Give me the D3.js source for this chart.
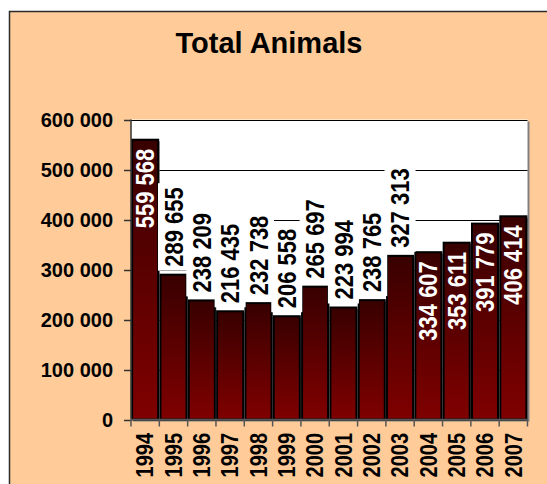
<!DOCTYPE html>
<html>
<head>
<meta charset="utf-8">
<script src="https://cdn.jsdelivr.net/npm/d3@7"></script>
<style>
  html, body { margin: 0; padding: 0; background: #fff; }
  svg { display: block; }
  text { font-family: "Liberation Sans", Arial, sans-serif; font-weight: bold; }
</style>
</head>
<body>
<svg id="chart" width="547" height="484"></svg>
<script>
const years = ["1994","1995","1996","1997","1998","1999","2000","2001","2002","2003","2004","2005","2006","2007"];
const totals = [559568, 289655, 238209, 216435, 232738, 206558, 265697, 223994, 238765, 327313, 334607, 353611, 391779, 406414];
const labelInside = [true, false, false, false, false, false, false, false, false, false, true, true, true, true];
const yTicks = [0, 100000, 200000, 300000, 400000, 500000, 600000];
const title = "Total Animals";

const data = years.map((y, i) => ({ year: y, value: totals[i], inside: labelInside[i] }));
const fmt = v => d3.format(",")(v).replace(/,/g, " ");

const svg = d3.select("#chart");
const W = 547, H = 484;
const plot = { left: 131, right: 527.5, top: 119.5, bottom: 419.5 };

// chart area background
svg.append("rect")
  .attr("x", 9.5).attr("y", 11.5).attr("width", W + 10).attr("height", H + 10)
  .attr("fill", "#FFCC99").attr("stroke", "#2b2b2b").attr("stroke-width", 1.5);

svg.append("text")
  .attr("x", 269).attr("y", 53)
  .attr("text-anchor", "middle")
  .attr("font-size", 29)
  .attr("fill", "#000")
  .text(title);

const x = d3.scaleBand().domain(years).range([plot.left, plot.right]).paddingInner(0.08).paddingOuter(0.04);
const y = d3.scaleLinear().domain([0, 600000]).range([plot.bottom, plot.top]);

// plot area shadow + white background
svg.append("rect")
  .attr("x", plot.left + 2).attr("y", plot.top + 2)
  .attr("width", plot.right - plot.left).attr("height", plot.bottom - plot.top)
  .attr("fill", "#808080");
svg.append("rect")
  .attr("x", plot.left).attr("y", plot.top)
  .attr("width", plot.right - plot.left).attr("height", plot.bottom - plot.top)
  .attr("fill", "#fff");

// gridlines
svg.append("g").selectAll("line").data(yTicks.filter(t => t > 0)).join("line")
  .attr("x1", plot.left).attr("x2", plot.right)
  .attr("y1", d => Math.round(y(d)) + 0.5).attr("y2", d => Math.round(y(d)) + 0.5)
  .attr("stroke", "#000").attr("stroke-width", 1.2);

// gradient
const defs = svg.append("defs");
const grad = defs.append("linearGradient").attr("id", "barGrad")
  .attr("x1", 0).attr("y1", 0).attr("x2", 0).attr("y2", 1);
grad.append("stop").attr("offset", "0%").attr("stop-color", "#380000");
grad.append("stop").attr("offset", "100%").attr("stop-color", "#800000");

// bar shadows
svg.append("g").selectAll("rect").data(data).join("rect")
  .attr("x", d => x(d.year) + 1.5)
  .attr("y", d => y(d.value) + 1.5)
  .attr("width", x.bandwidth())
  .attr("height", d => y(0) - y(d.value) - 1.5)
  .attr("fill", "#777");

// bars
svg.append("g").selectAll("rect").data(data).join("rect")
  .attr("x", d => x(d.year))
  .attr("y", d => y(d.value))
  .attr("width", x.bandwidth())
  .attr("height", d => y(0) - y(d.value))
  .attr("fill", "url(#barGrad)")
  .attr("stroke", "#000").attr("stroke-width", 2);

// y axis
const yAxis = svg.append("g");
yAxis.append("line")
  .attr("x1", plot.left).attr("x2", plot.left)
  .attr("y1", plot.top).attr("y2", plot.bottom)
  .attr("stroke", "#333").attr("stroke-width", 1.5);
yAxis.selectAll("line.tick").data(yTicks).join("line").attr("class", "tick")
  .attr("x1", plot.left - 7).attr("x2", plot.left)
  .attr("y1", d => Math.round(y(d)) + 0.5).attr("y2", d => Math.round(y(d)) + 0.5)
  .attr("stroke", "#333").attr("stroke-width", 1.5);
yAxis.selectAll("text").data(yTicks).join("text")
  .attr("x", 113).attr("y", d => y(d))
  .attr("dy", "0.36em")
  .attr("text-anchor", "end")
  .attr("font-size", 20)
  .attr("fill", "#000")
  .text(d => fmt(d));

// x axis
const xAxis = svg.append("g");
xAxis.append("line")
  .attr("x1", plot.left).attr("x2", plot.right)
  .attr("y1", plot.bottom).attr("y2", plot.bottom)
  .attr("stroke", "#555").attr("stroke-width", 1.5);
const bounds = years.map(yr => x(yr) - x.step() * x.paddingInner() / 2);
bounds.push(plot.right);
xAxis.selectAll("line.tick").data(bounds).join("line").attr("class", "tick")
  .attr("x1", d => d).attr("x2", d => d)
  .attr("y1", plot.bottom).attr("y2", plot.bottom + 7)
  .attr("stroke", "#555").attr("stroke-width", 1.5);
xAxis.selectAll("text").data(years).join("text")
  .attr("transform", d => `translate(${x(d) + x.bandwidth() / 2},433) rotate(-90) scale(1,1.15)`)
  .attr("dy", "0.36em")
  .attr("text-anchor", "end")
  .attr("font-size", 20)
  .attr("fill", "#000")
  .text(d => d);

// data labels
const lblG = svg.append("g");
data.forEach(d => {
  const cx = x(d.year) + x.bandwidth() / 2;
  const top = y(d.value);
  if (d.inside) {
    lblG.append("text")
      .attr("transform", `translate(${cx},${top + 9}) rotate(-90) scale(1,1.15)`)
      .attr("dy", "0.36em")
      .attr("text-anchor", "end")
      .attr("font-size", 22)
      .attr("fill", "#fff")
      .text(fmt(d.value));
  } else {
    const g = lblG.append("g");
    const bg = g.append("rect").attr("fill", "#fff");
    const t = g.append("text")
      .attr("transform", `translate(${cx},${top - 8}) rotate(-90) scale(1,1.15)`)
      .attr("dy", "0.36em")
      .attr("text-anchor", "start")
      .attr("font-size", 22)
      .attr("fill", "#000")
      .text(fmt(d.value));
    const len = t.node().getComputedTextLength();
    bg.attr("x", cx - 15.5).attr("width", 31)
      .attr("y", top - 8 - len - 4).attr("height", len + 8);
  }
});
</script>
</body>
</html>
